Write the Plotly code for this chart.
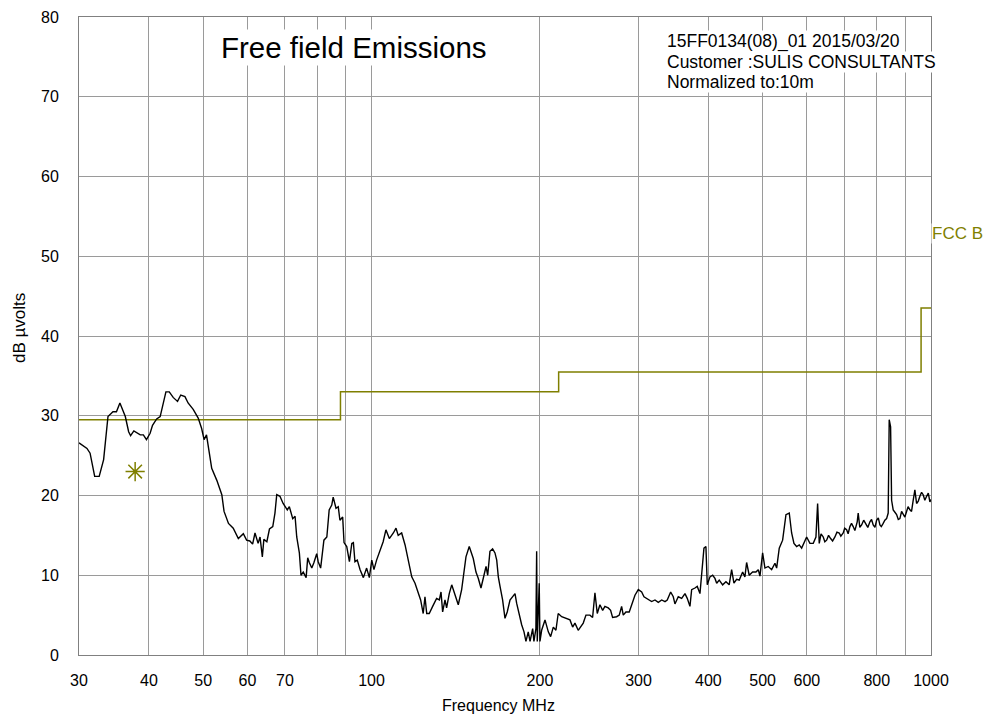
import plotly.graph_objects as go

# Measured emission trace, 30-600 MHz (MHz, dBµV)
freq_lo = [
    30.0, 31.0, 31.4, 32.0, 32.6, 33.2, 33.8, 34.5, 35.0, 35.5, 36.3, 36.8, 37.1, 37.6, 38.6, 39.1,
    39.6, 40.2, 40.6, 41.3, 41.9, 42.9, 43.5, 44.2, 45.0, 45.6, 46.4, 47.0, 48.0, 49.0, 49.7, 50.2,
    50.7, 51.8, 52.9, 54.0, 54.5, 55.5, 56.6, 57.8, 59.0, 59.8, 60.6, 61.3, 61.9, 62.7, 63.2, 63.8,
    64.2, 65.0, 65.7, 66.6, 67.2, 67.7, 68.6, 69.5, 70.7, 71.3, 72.3, 73.0, 73.5, 74.3, 74.8, 75.5,
    76.4, 76.9, 77.4, 78.2, 78.9, 79.8, 80.3, 81.1, 82.2, 83.2, 84.0, 84.9, 85.4, 86.4, 87.2, 87.8,
    88.8, 89.3, 90.3, 91.3, 92.2, 92.8, 93.4, 94.3, 95.4, 96.7, 98.0, 99.1, 100.1, 101.0, 102.1, 103.5,
    104.9, 106.1, 107.6, 109.4, 110.6, 111.6, 113.2, 114.8, 116.3, 118.0, 119.6, 121.2, 122.4, 123.7,
    124.6, 125.5, 126.8, 128.6, 130.7, 132.2, 133.1, 134.0, 135.3, 136.2, 137.7, 139.1, 140.0, 141.6,
    142.9, 144.9, 146.3, 147.5, 149.5, 151.0, 152.0, 153.7, 155.2, 156.9, 158.4, 160.2, 161.3, 162.8,
    164.6, 166.2, 167.4, 168.5, 169.7, 171.5, 173.2, 174.8, 176.8, 178.8, 180.5, 181.7, 183.7, 185.5,
    187.3, 188.8, 190.6, 192.0, 194.1, 195.1, 196.7, 197.3, 197.8, 199.4, 200.0, 201.4, 204.2, 207.0,
    209.0, 211.3, 213.6, 215.6, 218.7, 223.2, 226.3, 228.8, 231.0, 234.1, 239.0, 241.7, 245.7, 248.4,
    250.8, 253.2, 256.0, 258.9, 261.3, 264.9, 267.5, 269.7, 274.2, 277.2, 279.9, 281.8, 284.9, 288.8,
    291.7, 295.7, 299.8, 304.0, 306.9, 312.3, 316.7, 321.1, 325.5, 330.1, 334.6, 337.7, 342.5, 346.2,
    348.6, 353.4, 358.4, 363.3, 366.7, 370.8, 373.4, 378.5, 382.1, 386.4, 389.1, 392.8, 396.0, 398.2,
    402.6, 407.1, 411.0, 413.9, 418.3, 424.2, 430.0, 435.8, 440.2, 444.4, 449.3, 454.2, 460.6, 464.9,
    468.2, 473.2, 479.9, 486.5, 491.2, 494.6, 500.1, 504.9, 511.8, 519.0, 526.1, 529.8, 535.5, 543.0,
    550.5, 558.0, 563.5, 568.9, 575.2, 581.4, 587.2,
]
level_lo = [
    26.6, 25.9, 25.3, 22.4, 22.4, 24.5, 29.9, 30.5, 30.5, 31.6, 29.9, 28.0, 27.5, 28.1, 27.6, 27.6,
    27.0, 27.8, 28.8, 29.6, 29.9, 33.0, 33.0, 32.3, 31.8, 32.6, 32.4, 31.6, 30.8, 29.7, 28.4, 27.0,
    27.6, 23.4, 21.9, 20.1, 18.0, 16.5, 15.9, 14.6, 15.2, 14.4, 14.3, 13.9, 15.3, 14.0, 14.8, 12.3,
    14.5, 14.2, 15.8, 16.1, 17.8, 20.1, 19.9, 19.0, 18.2, 18.6, 17.1, 17.4, 14.8, 12.8, 10.0, 10.4,
    9.7, 12.2, 11.6, 10.9, 11.6, 12.7, 11.7, 10.9, 14.4, 14.8, 18.2, 18.8, 19.8, 18.4, 18.6, 16.9,
    17.3, 14.1, 13.6, 11.7, 14.0, 14.1, 11.7, 11.9, 10.7, 9.7, 10.9, 9.7, 11.9, 10.7, 11.9, 13.2,
    14.2, 15.7, 14.6, 15.3, 15.9, 15.0, 15.3, 13.8, 11.7, 9.8, 9.0, 7.7, 6.9, 5.2,
    7.3, 5.2, 5.2, 6.1, 7.1, 6.9, 7.9, 5.4, 6.9, 5.9, 7.7, 8.8, 8.2, 7.3,
    6.3, 8.2, 10.7, 12.3, 13.6, 12.5, 12.1, 10.4, 9.6, 8.4, 9.8, 11.1, 10.0, 13.0,
    13.3, 12.8, 11.9, 9.8, 8.6, 6.9, 4.6, 5.4, 6.9, 7.3, 7.7, 6.5, 5.0, 3.8,
    2.9, 1.7, 2.9, 1.7, 3.3, 1.7, 3.3, 13.0, 1.7, 9.0, 1.7, 3.1, 4.4, 2.9,
    2.3, 3.5, 3.1, 5.2, 4.8, 4.6, 4.4, 3.5, 4.0, 3.1, 4.0, 5.0, 5.0, 4.7,
    7.8, 5.2, 6.3, 5.6, 6.1, 5.9, 5.6, 4.7, 4.8, 5.0, 6.1, 5.0, 5.4, 5.4,
    6.3, 7.5, 8.2, 7.9, 7.3, 7.0, 6.7, 6.9, 6.6, 6.9, 6.7, 6.9, 7.9, 7.3,
    6.4, 7.3, 7.1, 7.7, 7.1, 6.1, 8.2, 8.4, 8.6, 7.7, 9.8, 13.4, 13.6, 8.8,
    9.8, 10.0, 9.6, 9.0, 9.4, 8.8, 9.2, 8.8, 10.7, 9.0, 9.5, 9.4, 10.4, 9.8,
    11.6, 10.0, 10.4, 10.4, 10.7, 9.9, 12.8, 10.9, 11.1, 10.7, 11.5, 10.9, 13.4, 14.4,
    17.6, 17.8, 15.3, 14.0, 13.6, 13.8, 13.4,
]

# Measured emission trace, 600-1000 MHz (MHz, dBµV)
freq_hi = [
    599.4, 607.6, 615.9, 622.8, 627.1, 631.3, 636.0, 641.8, 646.0, 650.8, 656.0, 661.6, 667.0, 673.4,
    679.0, 685.4, 690.0, 696.8, 701.0, 706.6, 711.0, 716.2, 721.0, 726.0, 731.0, 738.1, 741.1, 746.0,
    751.6, 758.0, 765.0, 771.0, 777.7, 783.0, 788.3, 794.0, 799.4, 805.0, 810.4, 815.0, 821.4, 827.0,
    833.0, 838.5, 842.0, 846.8, 850.3, 855.9, 862.0, 868.0, 874.0, 879.9, 886.0, 891.9, 898.0, 904.4,
    910.0, 916.8, 923.0, 929.3, 935.8, 942.4, 949.0, 955.3, 962.0, 968.3, 975.0, 982.0, 989.0, 995.4,
    1000.0,
]
level_hi = [
    14.8, 14.0, 14.0, 14.8, 19.0, 14.0, 15.2, 14.8, 14.2, 14.4, 15.0, 14.6, 14.3, 14.8,
    15.4, 15.3, 14.9, 15.3, 15.9, 15.7, 15.2, 16.1, 16.5, 16.1, 15.6, 16.7, 17.8, 16.0,
    16.3, 16.9, 16.5, 16.0, 16.7, 17.0, 16.3, 16.0, 16.9, 17.2, 16.3, 16.1, 16.5, 16.9,
    17.1, 17.8, 29.5, 28.6, 19.4, 18.2, 17.9, 17.6, 17.0, 17.1, 18.0, 17.6, 17.3, 18.0,
    18.6, 18.2, 18.0, 19.4, 20.7, 19.0, 19.3, 19.9, 20.4, 20.1, 19.4, 19.9, 20.3, 19.2,
    19.5,
]

# FCC class B limit (10 m)
fcc_freq = [30, 88, 216, 960, 1000]
fcc_level = [29.5, 33.0, 35.5, 43.5, 43.5]

# Quasi-peak marker
marker_freq = [37.8]
marker_level = [23.0]

x_tickvals = [30, 40, 50, 60, 70, 80, 90, 100, 200, 300, 400, 500, 600, 700, 800, 900, 1000]
x_ticktext = ["30", "40", "50", "60", "70", "", "", "100", "200", "300", "400", "500", "600", "", "800", "", "1000"]
y_tickvals = [0, 10, 20, 30, 40, 50, 60, 70, 80]

freq_mhz = freq_lo + freq_hi
level_dbuv = level_lo + level_hi

OLIVE = "#7f7f00"
FONT = "Liberation Sans, Arial, sans-serif"

fig = go.Figure()
fig.add_trace(go.Scatter(x=fcc_freq, y=fcc_level, mode="lines", line=dict(color=OLIVE, width=1.5, shape="hv"),
                         showlegend=False, hoverinfo="skip"))
fig.add_trace(go.Scatter(x=freq_mhz, y=level_dbuv, mode="lines", line=dict(color="black", width=1.4),
                         showlegend=False))
fig.add_trace(go.Scatter(x=marker_freq, y=marker_level, mode="markers",
                         marker=dict(symbol="asterisk-open", size=16, color=OLIVE,
                                     line=dict(color=OLIVE, width=1.5)),
                         showlegend=False))

fig.update_layout(
    width=985, height=715,
    margin=dict(l=79, r=54, t=17, b=60, autoexpand=False),
    paper_bgcolor="white", plot_bgcolor="white",
    font=dict(family=FONT, size=16, color="black"),
    xaxis=dict(type="log", range=[1.4771213, 3.0], tickvals=x_tickvals, ticktext=x_ticktext,
               showgrid=True, gridcolor="#9a9a9a", gridwidth=1, showline=True, linecolor="#808080",
               linewidth=1, mirror=True, ticks="", zeroline=False, ticklabelstandoff=11, automargin=False),
    yaxis=dict(range=[0, 80], tickvals=y_tickvals, showgrid=True, gridcolor="#9a9a9a", gridwidth=1,
               showline=True, linecolor="#808080", linewidth=1, mirror=True, ticks="", zeroline=False,
               ticklabelstandoff=16, automargin=False),
)

plot_h = 715 - 17 - 60
plot_w = 985 - 79 - 54


def py(ypix):
    return 1 - (ypix - 17) / plot_h


def px(xpix):
    return (xpix - 79) / plot_w


# Axis titles
fig.add_annotation(x=px(498), y=py(705), xref="paper", yref="paper", text="Frequency MHz", showarrow=False,
                   font=dict(size=16), xanchor="center", yanchor="middle")
fig.add_annotation(x=px(20), y=py(328), xref="paper", yref="paper", text="dB µvolts", showarrow=False,
                   font=dict(size=17), textangle=-90, xanchor="center", yanchor="middle")

fig.add_annotation(x=px(354), y=py(48), xref="paper", yref="paper", text="Free field Emissions",
                   showarrow=False, font=dict(size=29.5), bgcolor="white", xanchor="center", yanchor="middle")
info_lines = ["15FF0134(08)_01 2015/03/20", "Customer :SULIS CONSULTANTS", "Normalized to:10m"]
for i, t in enumerate(info_lines):
    fig.add_annotation(x=px(666), y=py(41.5 + 20 * i), xref="paper", yref="paper", text=t, showarrow=False,
                       font=dict(size=17.5), bgcolor="white", xanchor="left", yanchor="middle", borderpad=0)
fig.add_annotation(x=1.0, y=52.8, xref="paper", yref="y", text="FCC B", showarrow=False,
                   font=dict(size=17, color=OLIVE), bgcolor="white", xanchor="left", yanchor="middle",
                   borderpad=0)

fig.write_html("out.html")
